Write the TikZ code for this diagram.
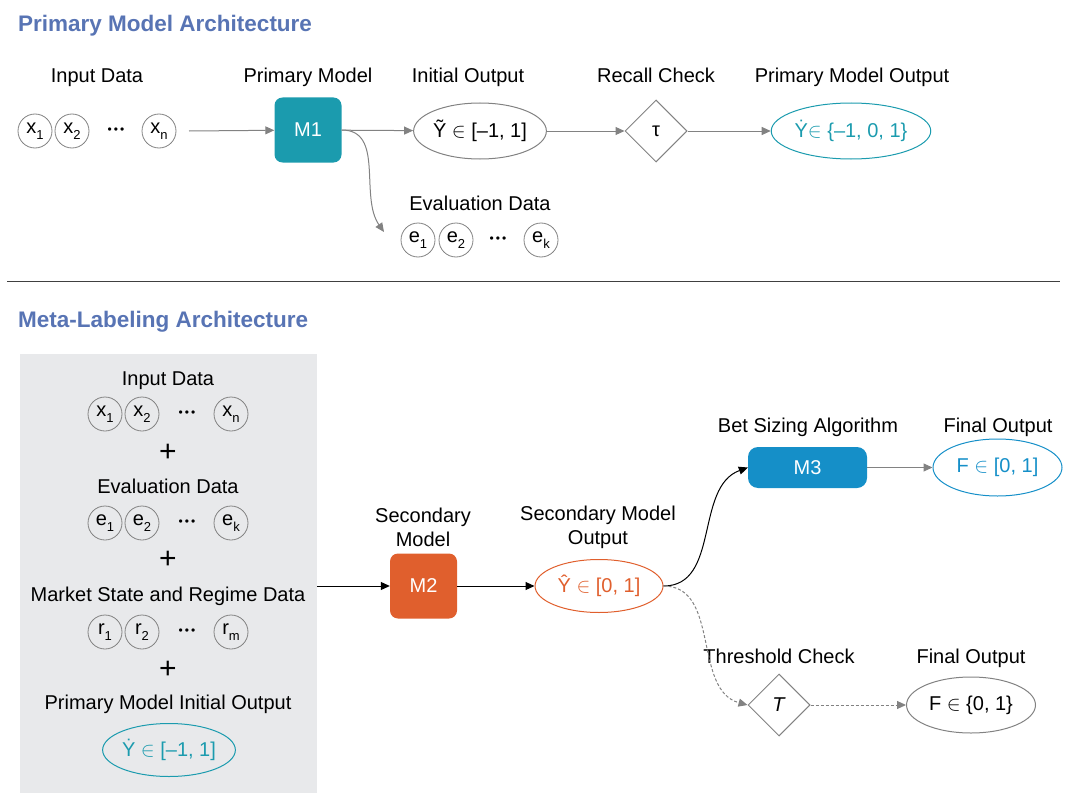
\documentclass[tikz,border=0pt]{standalone}
\usepackage{fontspec}
\setmainfont{Liberation Sans}
\usetikzlibrary{arrows.meta,shapes.geometric}

\definecolor{headblue}{RGB}{88,116,180}
\definecolor{mteal}{RGB}{27,155,174}
\definecolor{mblue}{RGB}{21,143,200}
\definecolor{morange}{RGB}{224,95,45}
\definecolor{lgray}{RGB}{130,130,130}
\definecolor{panelgray}{RGB}{232,233,235}

\newcommand{\sbs}[1]{\raisebox{-0.55ex}{\fontsize{13}{13}\selectfont #1}}
\newcommand{\threedots}{\textbullet\hspace{2pt}\textbullet\hspace{2pt}\textbullet}

\begin{document}
\begin{tikzpicture}[x=1pt, y=-1pt,
	every node/.style={font=\fontsize{20}{24}\selectfont},
	head/.style={anchor=base west, inner sep=0pt, text=headblue, font=\fontsize{22.5}{27}\selectfont\bfseries},
	txt/.style={anchor=base, inner sep=0pt},
	datum/.style={circle, draw=lgray, line width=0.8pt, minimum size=34pt, inner sep=0pt},
	dots/.style={inner sep=0pt, font=\fontsize{12}{12}\selectfont},
	plus/.style={inner sep=0pt, font=\fontsize{30}{30}\selectfont},
	model/.style={rectangle, rounded corners=8pt, text=white, minimum width=67pt, minimum height=65pt},
	outcome/.style={ellipse, draw=lgray, line width=1pt, minimum width=129pt, minimum height=56pt, inner sep=0pt},
	check/.style={diamond, draw=lgray, line width=1pt, minimum width=62pt, minimum height=62pt, inner sep=0pt},
	garrow/.style={draw=lgray, line width=1pt, -{Triangle[length=9pt, width=8pt]}},
	barrow/.style={draw=black, line width=1pt, -{Triangle[length=9pt, width=8pt]}}]
	\useasboundingbox (0,0) rectangle (1069,800);

	% primary model architecture
	\node[head] (h1) at (18,32) {Primary Model Architecture};
	\node[txt] (tin) at (97,83) {Input Data};
	\node[txt] (tpm) at (308,83) {Primary Model};
	\node[txt] (tio) at (468,83) {Initial Output};
	\node[txt] (trc) at (656,83) {Recall Check};
	\node[txt] (tpo) at (852,83) {Primary Model Output};
	\node[txt] (tev) at (480,210) {Evaluation Data};

	\foreach \n/\x/\t in {x1/35/x\sbs{1}, x2/72/x\sbs{2}, xn/159/x\sbs{n}}
		\node[datum] (\n) at (\x,131) {\t};
	\node[dots] (xd) at (116,131) {\threedots};
	\foreach \n/\x/\t in {e1/418/e\sbs{1}, e2/456/e\sbs{2}, ek/541/e\sbs{k}}
		\node[datum] (\n) at (\x,240) {\t};
	\node[dots] (ed) at (498,240) {\threedots};

	\node[model, fill=mteal] (m1) at (308,130) {M1};
	\node[outcome] (init) at (480,131) {Ỹ $\in$ [–1, 1]};
	\node[check] (rc) at (656,131) {τ};
	\node[outcome, draw=mteal, text=mteal, minimum width=137pt] (pout) at (851,131) {Ẏ$\in$ \{–1, 0, 1\}};

	\draw[garrow] (xn) ++(30,0) coordinate (xs) (xs) -- (m1);
	\draw[garrow] (m1) -- (init);
	\draw[garrow] (init) -- (rc);
	\draw[garrow] (rc) -- (pout);
	\coordinate (evin) at (384,232);
	\draw[garrow] (m1.east) to[out=0, in=125] (evin);

	\draw[black!75, line width=0.8pt] (7,281) -- (1060,281);

	% meta-labeling architecture
	\node[head] (h2) at (18,327) {Meta-Labeling Architecture};
	\node[fill=panelgray, minimum width=297pt, minimum height=439pt, inner sep=0pt] (panel) at (168.5,573.5) {};

	\node[txt] (pin) at (168,385) {Input Data};
	\node[plus] (p1) at (168,453) {+};
	\node[txt] (pev) at (168,493) {Evaluation Data};
	\node[plus] (p2) at (168,560) {+};
	\node[txt] (pms) at (168,601) {Market State and Regime Data};
	\node[plus] (p3) at (168,670) {+};
	\node[txt] (pmo) at (168,709) {Primary Model Initial Output};
	\foreach \v/\l/\y in {x/n/414, e/k/523, r/m/632} {
		\node[datum] (p\v1) at (105,\y) {\v\sbs{1}};
		\node[datum] (p\v2) at (142,\y) {\v\sbs{2}};
		\node[dots] (p\v d) at (187,\y) {\threedots};
		\node[datum] (p\v\l) at (231,\y) {\v\sbs{\l}};
	}
	\node[outcome, draw=mteal, text=mteal, minimum width=128pt, minimum height=53pt] (pyo) at (169,750) {Ẏ $\in$ [–1, 1]};

	\node[align=center, inner sep=0pt] (tsm) at (423,527) {Secondary\\Model};
	\node[align=center, inner sep=0pt] (tso) at (598,527) {Secondary Model\\Output};
	\node[txt] (tbs) at (808,432) {Bet Sizing Algorithm};
	\node[txt] (tf1) at (998,432) {Final Output};
	\node[txt] (ttc) at (779,663) {Threshold Check};
	\node[txt] (tf2) at (971,663) {Final Output};

	\node[model, fill=morange] (m2) at (423.5,586) {M2};
	\node[outcome, draw=morange, text=morange, minimum width=128pt, minimum height=53pt] (sout) at (599,586) {Ŷ $\in$ [0, 1]};
	\node[model, fill=mblue, rounded corners=10pt, minimum width=119pt, minimum height=41pt] (m3) at (807.5,467.5) {M3};
	\node[outcome, draw=mblue, text=mblue, minimum height=57pt] (fout) at (997.5,467.5) {F $\in$ [0, 1]};
	\node[check] (tc) at (779,705) {\textit{T}};
	\node[outcome] (bout) at (971,705) {F $\in$ \{0, 1\}};

	\draw[barrow] (panel.east |- m2.west) -- (m2);
	\draw[barrow] (m2) -- (sout);
	\draw[barrow] (sout.east) to[out=0, in=200] (m3.west);
	\draw[garrow] (m3) -- (fout);
	\draw[garrow, dash pattern=on 3pt off 2pt] (sout.east) to[out=0, in=165] (tc.west);
	\draw[garrow, dash pattern=on 3pt off 2pt] (tc) -- (bout);
\end{tikzpicture}
\end{document}
